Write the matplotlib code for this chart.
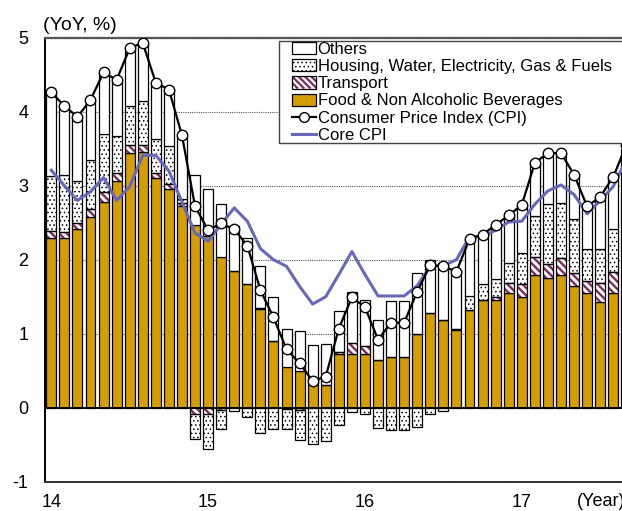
import matplotlib
matplotlib.use("Agg")
import matplotlib.pyplot as plt
import matplotlib.transforms as mtransforms
import numpy as np
from matplotlib.patches import Patch, Rectangle, PathPatch
from matplotlib.path import Path
from matplotlib.lines import Line2D
from matplotlib.collections import LineCollection
from matplotlib.legend_handler import HandlerBase

plt.rcParams['font.family'] = ['Liberation Sans', 'DejaVu Sans']
plt.rcParams['axes.unicode_minus'] = False
plt.rcParams['hatch.linewidth'] = 0.6

# monthly contributions (% pt), Jan 2014 onward
food = [2.30, 2.29, 2.41, 2.58, 2.78, 3.06, 3.44, 3.46, 3.10, 2.95, 2.73, 2.47,
        2.32, 2.04, 1.85, 1.67, 1.33, 0.90, 0.55, 0.50, 0.33, 0.31, 0.72, 0.72,
        0.72, 0.64, 0.69, 0.69, 0.99, 1.28, 1.19, 1.05, 1.32, 1.46, 1.46, 1.55,
        1.50, 1.80, 1.75, 1.80, 1.64, 1.55, 1.43, 1.55, 1.60]
transport = [0.09, 0.09, 0.09, 0.10, 0.13, 0.11, 0.11, 0.09, 0.07, 0.07, 0.04, -0.08,
             -0.09, -0.03, 0.00, 0.00, 0.02, 0.00, -0.02, -0.03, 0.00, 0.00, 0.03, 0.15,
             0.11, 0.00, 0.00, 0.00, 0.00, 0.00, 0.00, 0.02, 0.00, 0.00, 0.03, 0.14,
             0.17, 0.23, 0.19, 0.22, 0.18, 0.16, 0.26, 0.29, 0.30]
housing = [0.74, 0.76, 0.57, 0.67, 0.79, 0.50, 0.53, 0.59, 0.46, 0.51, 0.05, -0.34,
           -0.47, -0.26, -0.04, -0.12, -0.34, -0.29, -0.27, -0.40, -0.49, -0.45, -0.24, -0.06,
           -0.09, -0.28, -0.30, -0.30, -0.26, -0.08, -0.05, 0.00, 0.19, 0.21, 0.25, 0.27,
           0.42, 0.56, 0.81, 0.75, 0.73, 0.43, 0.46, 0.57, 0.62]
others = [1.13, 0.94, 0.86, 0.81, 0.83, 0.76, 0.78, 0.79, 0.76, 0.77, 0.86, 0.67,
          0.63, 0.71, 0.61, 0.62, 0.56, 0.60, 0.51, 0.54, 0.52, 0.55, 0.56, 0.69,
          0.62, 0.55, 0.75, 0.75, 0.83, 0.72, 0.77, 0.79, 0.78, 0.68, 0.73, 0.65,
          0.65, 0.71, 0.69, 0.67, 0.61, 0.59, 0.70, 0.71, 0.98]
cpi = [4.26, 4.08, 3.93, 4.16, 4.53, 4.43, 4.86, 4.93, 4.39, 4.30, 3.68, 2.72,
       2.40, 2.49, 2.41, 2.19, 1.59, 1.22, 0.79, 0.60, 0.36, 0.42, 1.07, 1.49,
       1.36, 0.92, 1.15, 1.15, 1.57, 1.93, 1.91, 1.84, 2.28, 2.34, 2.47, 2.60,
       2.74, 3.31, 3.44, 3.44, 3.15, 2.72, 2.85, 3.12, 3.55]
core = [3.21, 3.00, 2.80, 2.92, 3.11, 2.80, 2.99, 3.41, 3.41, 3.20, 2.78, 2.36,
        2.25, 2.48, 2.70, 2.52, 2.15, 2.00, 1.91, 1.64, 1.40, 1.50, 1.80, 2.11,
        1.80, 1.51, 1.51, 1.51, 1.65, 1.91, 1.92, 2.00, 2.31, 2.31, 2.40, 2.51,
        2.52, 2.75, 2.93, 3.01, 2.88, 2.62, 2.80, 2.99, 3.35]
year_labels = ['14', '15', '16', '17']

GOLD = '#D49E00'
PURPLE = '#7B2C5E'
BLUE = '#6868BA'


class StripeHandler(HandlerBase):
    # white box with thick purple back-diagonal stripes
    def create_artists(self, legend, orig_handle, xdescent, ydescent,
                       width, height, fontsize, trans):
        bg = Rectangle((-xdescent, -ydescent), width, height, facecolor='white',
                       edgecolor='none', transform=trans)
        segs = [[(s, height - ydescent), (s + height, -ydescent)]
                for s in np.arange(-xdescent - height, width, 4.6)]
        lc = LineCollection(segs, colors=PURPLE, linewidths=1.6, transform=trans)
        lc.set_clip_path(bg)
        box = Rectangle((-xdescent, -ydescent), width, height, fill=False,
                        edgecolor='black', lw=0.9, transform=trans)
        return [bg, lc, box]


x = np.arange(len(food))
W = 0.76
AX_W, AX_H = 6.03, 4.44  # inches

fig = plt.figure(figsize=(6.22, 5.11), dpi=100)
ax = fig.add_axes([45 / 622, 29.3 / 511, AX_W * 100 / 622, AX_H * 100 / 511])

pos_base = np.zeros(len(x))
neg_base = np.zeros(len(x))
for vals, name in [(food, 'food'), (transport, 'transport'),
                   (housing, 'housing'), (others, 'others')]:
    v = np.array(vals)
    bottom = np.where(v >= 0, pos_base, neg_base)
    if name == 'food':
        ax.bar(x, v, W, bottom=bottom, facecolor=GOLD, edgecolor='black', lw=0.9, zorder=2)
    elif name == 'housing':
        ax.bar(x, v, W, bottom=bottom, facecolor='white', edgecolor='black',
               hatch='....', lw=0.9, zorder=2)
    elif name == 'others':
        ax.bar(x, v, W, bottom=bottom, facecolor='white', edgecolor='black', lw=0.9, zorder=2)
    else:
        rects = [Path.unit_rectangle().transformed(
                     mtransforms.Affine2D().scale(W, vi).translate(xi - W / 2, bi))
                 for xi, vi, bi in zip(x, v, bottom) if vi != 0]
        clip = PathPatch(Path.make_compound_path(*rects), transform=ax.transData,
                         facecolor='white', edgecolor='none', zorder=2)
        ax.add_patch(clip)
        inch_tr = mtransforms.Affine2D().scale(1 / AX_W, 1 / AX_H) + ax.transAxes
        step = 0.075
        segs = [[(s, AX_H), (s + AX_H, 0)] for s in np.arange(-AX_H, AX_W, step)]
        lc = LineCollection(segs, colors=PURPLE, linewidths=1.7, transform=inch_tr, zorder=2.1)
        lc.set_clip_path(clip)
        ax.add_collection(lc)
        ax.bar(x, v, W, bottom=bottom, fill=False, edgecolor='black', lw=0.9, zorder=2.2)
    pos_base = pos_base + np.where(v >= 0, v, 0)
    neg_base = neg_base + np.where(v < 0, v, 0)

ax.plot(x, core, color=BLUE, lw=2.2, zorder=3)
ax.plot(x, cpi, color='black', lw=1.6, marker='o', markersize=7.5,
        markerfacecolor='white', markeredgecolor='black', markeredgewidth=1.0, zorder=4)

ax.axhline(0, color='black', lw=1.4, zorder=2.5)
for yv in [1, 2, 3, 4]:
    ax.axhline(yv, color='#555555', lw=0.8, ls=(0, (1, 1)), zorder=1)

ax.set_xlim(-0.48, -0.48 + AX_W * 100 / 13.07)
ax.set_ylim(-1, 5)
ax.set_yticks(range(-1, 6))
ax.set_xticks([0, 12, 24, 36])
ax.set_xticklabels(year_labels)
ax.tick_params(axis='both', labelsize=13, length=0)
ax.tick_params(axis='y', pad=12)
ax.tick_params(axis='x', pad=9)

ax.spines['left'].set_linewidth(1.4)
ax.spines['right'].set_visible(False)
ax.spines['top'].set_color('#555555')
ax.spines['top'].set_linewidth(1.6)
ax.spines['top'].set_linestyle((0, (1, 0.6)))
ax.spines['bottom'].set_color('#333333')
ax.spines['bottom'].set_linewidth(1.4)
ax.spines['bottom'].set_linestyle((0, (1, 0.6)))

fig.text(43 / 622, 1 - 26 / 511, '(YoY, %)', fontsize=14, va='center', ha='left')
fig.text(577 / 622, 1 - 502 / 511, '(Year)', fontsize=13, va='center', ha='left')

# legend frame drawn separately so it runs past the right edge like the reference
frame = Rectangle((279 / 622, 1 - 143.3 / 511), 400 / 622, 102.6 / 511,
                  transform=fig.transFigure, facecolor='white', edgecolor='#444444',
                  lw=1.0, zorder=4)
fig.add_artist(frame)

tr_handle = Patch()
handles = [Patch(facecolor='white', edgecolor='black', linewidth=0.9),
           Patch(facecolor='white', edgecolor='black', hatch='....', linewidth=0.9),
           tr_handle,
           Patch(facecolor=GOLD, edgecolor='black', linewidth=0.9),
           Line2D([], [], color='black', lw=1.6, marker='o', markersize=7,
                  markerfacecolor='white', markeredgecolor='black'),
           Line2D([], [], color=BLUE, lw=2.2)]
labels = ['Others', 'Housing, Water, Electricity, Gas & Fuels', 'Transport',
          'Food & Non Alcoholic Beverages', 'Consumer Price Index (CPI)', 'Core CPI']
leg = fig.legend(handles, labels, loc='upper left',
                 bbox_to_anchor=(291.5 / 622, 1 - 42 / 511),
                 fontsize=12, handlelength=1.45, handleheight=0.75, handletextpad=0.12,
                 labelspacing=0.13, borderpad=0, borderaxespad=0, frameon=False,
                 handler_map={tr_handle: StripeHandler()})
leg.set_zorder(5)

fig.savefig('out.png', dpi=100)
